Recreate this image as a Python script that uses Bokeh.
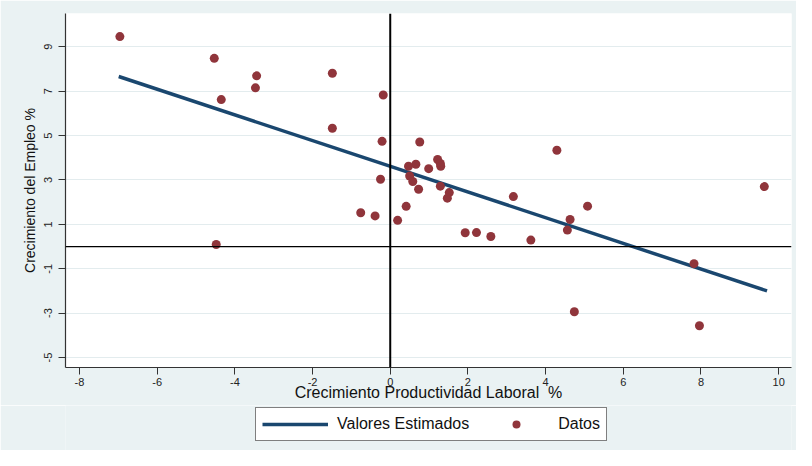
import numpy as np
from bokeh.plotting import figure
from bokeh.layouts import column
from bokeh.models import Range1d, Span, Legend, LegendItem
from bokeh.embed import file_html
from bokeh.resources import INLINE

# Crecimiento Productividad Laboral % (x) y Crecimiento del Empleo % (y)
prod_x = [-6.96, -4.53, -4.35, -3.44, -3.47, -1.49, -1.49, -0.18, -0.21, -0.25,
          -0.76, -0.39, 0.19, 0.41, -4.48, 0.76, 1.22, 1.29, 1.30, 0.66,
          0.47, 0.99, 0.50, 0.58, 0.73, 1.29, 1.52, 1.47, 1.93, 2.22,
          2.59, 3.17, 4.29, 5.08, 4.63, 4.56, 3.62, 9.63, 7.82, 4.74, 7.96]
empleo_y = [9.46, 8.48, 6.62, 7.69, 7.15, 7.81, 5.33, 6.83, 4.74, 3.03,
            1.52, 1.38, 1.18, 1.81, 0.09, 4.71, 3.92, 3.74, 3.62, 3.71,
            3.62, 3.51, 3.18, 2.93, 2.58, 2.72, 2.43, 2.18, 0.62, 0.63,
            0.45, 2.25, 4.34, 1.82, 1.22, 0.74, 0.29, 2.70, -0.77, -2.94, -3.57]

# Valores estimados (recta ajustada)
fit_x = [-6.99, 9.70]
fit_y = [7.66, -2.00]

x_ticks = [-8, -6, -4, -2, 0, 2, 4, 6, 8, 10]
y_ticks = [-5, -3, -1, 1, 3, 5, 7, 9]

FONT = "Liberation Sans"
BG = "#EAF2F3"
LINE_COLOR = "#1A476F"
DOT_COLOR = "#90353B"

p = figure(width=796, height=405, output_backend="svg", toolbar_location=None,
           x_range=Range1d(-8.36, 10.33), y_range=Range1d(-5.45, 10.5),
           min_border_left=65, min_border_right=5, min_border_top=13,
           min_border_bottom=38)
p.background_fill_color = "white"
p.border_fill_color = BG
p.outline_line_color = None

# grid
p.xgrid.visible = False
p.ygrid.grid_line_color = "#E3ECEE"
p.ygrid.grid_line_width = 1.2

# axes
for ax in (p.xaxis, p.yaxis):
    ax.axis_line_color = "#333333"
    ax.axis_line_width = 1.2
    ax.major_tick_line_color = "#333333"
    ax.major_tick_out = 7
    ax.major_tick_in = 0
    ax.minor_tick_line_color = None
    ax.major_label_text_font = FONT
    ax.major_label_text_font_size = "11px"
    ax.major_label_text_color = "#222222"
    ax.axis_label_text_font = FONT
    ax.axis_label_text_font_style = "normal"
    ax.axis_label_text_color = "#111111"

p.xaxis.axis_label_text_font_size = "16px"
p.yaxis.axis_label_text_font_size = "14px"
p.xaxis.ticker = x_ticks
p.yaxis.ticker = y_ticks
p.xaxis.major_label_overrides = {t: str(t) for t in x_ticks}
p.yaxis.major_label_overrides = {t: str(t) for t in y_ticks}
p.yaxis.major_label_orientation = "vertical"
p.xaxis.major_label_standoff = 3
p.yaxis.major_label_standoff = 6
p.xaxis.axis_label = "Crecimiento Productividad Laboral\u00a0 %"
p.yaxis.axis_label = "Crecimiento del Empleo %"
p.xaxis.axis_label_standoff = -5
p.yaxis.axis_label_standoff = 4

# reference lines
p.add_layout(Span(location=0, dimension="height", line_color="black", line_width=2))
p.add_layout(Span(location=0, dimension="width", line_color="black", line_width=1.2))

p.line(fit_x, fit_y, line_color=LINE_COLOR, line_width=3.5)
p.scatter(prod_x, empleo_y, marker="circle", size=9,
          fill_color=DOT_COLOR, line_color=None)

# legend strip below the plot
q = figure(width=796, height=45, output_backend="svg", toolbar_location=None,
           x_range=Range1d(0, 1), y_range=Range1d(0, 1),
           x_axis_location=None, y_axis_location=None, min_border=0)
q.background_fill_color = BG
q.border_fill_color = BG
q.outline_line_color = None
q.grid.visible = False
lg_line = q.line(fit_x, fit_y, line_color=LINE_COLOR, line_width=3.5, visible=False)
lg_pts = q.scatter(prod_x, empleo_y, marker="circle", size=9,
                   fill_color=DOT_COLOR, line_color=None, visible=False)

legend = Legend(items=[LegendItem(label="Valores Estimados", renderers=[lg_line]),
                       LegendItem(label="Datos", renderers=[lg_pts])],
                orientation="horizontal", location=(190, 9),
                glyph_width=66, glyph_height=20, label_standoff=9, spacing=14,
                padding=6, margin=0,
                label_text_font=FONT, label_text_font_size="16px",
                label_text_color="#111111",
                border_line_color="black", border_line_width=1,
                background_fill_color="white", background_fill_alpha=1,
                inactive_fill_alpha=0)
q.add_layout(legend, "center")

layout = column(p, q, spacing=0)
open("out.html", "w").write(file_html(layout, INLINE))
